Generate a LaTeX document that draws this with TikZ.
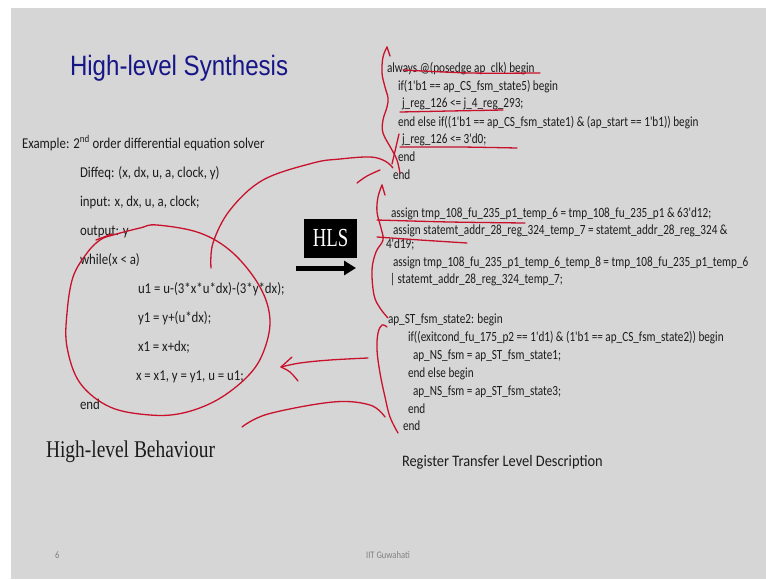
\documentclass[tikz,border=0pt]{standalone}
\usepackage{fontspec}
\setmainfont{Carlito}
\newfontfamily\leftfont{Carlito}[FakeStretch=0.855]
\newfontfamily\codefont{Carlito}[FakeStretch=0.80]
\newfontfamily\rtlfont{Carlito}[FakeStretch=0.90]
\newfontfamily\titlefont{Liberation Sans}[FakeStretch=0.86]
\newfontfamily\behfont{Liberation Serif}[FakeStretch=0.81]
\newfontfamily\hlsfont{Liberation Serif}[FakeStretch=0.72]
\usetikzlibrary{arrows.meta}
\definecolor{slidebg}{RGB}{214,214,214}
\definecolor{ink}{RGB}{28,28,28}
\definecolor{navy}{RGB}{22,22,135}
\definecolor{annred}{RGB}{200,18,44}
\definecolor{foot}{RGB}{128,128,128}
\tikzset{
  txt/.style={anchor=base west, inner sep=0pt, outer sep=0pt, text=ink, font=\leftfont\fontsize{15}{18}\selectfont},
  code/.style={txt, font=\codefont\fontsize{14}{17}\selectfont},
  ann/.style={draw=annred, line width=1.3pt, line cap=round, line join=round},
}
\begin{document}
\begin{tikzpicture}[x=1pt,y=-1pt]
\useasboundingbox (0,0) rectangle (766,579);
\fill[white] (0,0) rectangle (766,579);
\fill[slidebg] (11,8) rectangle (766,579);

% title
\node[txt, text=navy, font=\titlefont\fontsize{28}{30}\selectfont] (title) at (70,75) {High-level Synthesis};

% left column
\node[txt] (ex) at (22,148) {Example: 2\textsuperscript{nd} order differential equation solver};
\node[txt] (diffeq) at (80,177) {Diffeq: (x, dx, u, a, clock, y)};
\node[txt] (inp) at (80,206) {input: x, dx, u, a, clock;};
\node[txt] (outp) at (80,235) {output: y};
\node[txt] (wh) at (80,264) {while(x < a)};
\node[txt] (l1) at (138,293) {u1 = u-(3*x*u*dx)-(3*y*dx);};
\node[txt] (l2) at (138,322) {y1 = y+(u*dx);};
\node[txt] (l3) at (138,351) {x1 = x+dx;};
\node[txt] (l4) at (136,380) {x = x1, y = y1, u = u1;};
\node[txt] (lend) at (80,409) {end};
\node[txt, font=\behfont\fontsize{24}{26}\selectfont] (beh) at (46,457) {High-level Behaviour};

% HLS box and arrow
\node[fill=black, minimum width=53pt, minimum height=39pt, inner sep=0pt, text=white,
      font=\hlsfont\fontsize{26}{28}\selectfont] (hls) at (330.5,238.5) {HLS};
\coordinate (arrS) at (296,268);
\coordinate (arrE) at (356,268);
\draw[line width=5pt, -{Triangle[length=12pt,width=14pt]}] (arrS) -- (arrE);

% right column, block 1
\node[code] (r1) at (387,72) {always @(posedge ap\_clk) begin};
\node[code] (r2) at (398,90) {if(1'b1 == ap\_CS\_fsm\_state5) begin};
\node[code] (r3) at (402,107) {j\_reg\_126 <= j\_4\_reg\_293;};
\node[code] (r4) at (398,126) {end else if((1'b1 == ap\_CS\_fsm\_state1) \& (ap\_start == 1'b1)) begin};
\node[code] (r5) at (402,143) {j\_reg\_126 <= 3'd0;};
\node[code] (r6) at (398,161) {end};
\node[code] (r7) at (393,179) {end};

% block 2
\node[code] (s1) at (391,217) {assign tmp\_108\_fu\_235\_p1\_temp\_6 = tmp\_108\_fu\_235\_p1 \& 63'd12;};
\node[code] (s2) at (393,234) {assign statemt\_addr\_28\_reg\_324\_temp\_7 = statemt\_addr\_28\_reg\_324 \&};
\node[code] (s3) at (386,248) {4'd19;};
\node[code] (s4) at (393,266) {assign tmp\_108\_fu\_235\_p1\_temp\_6\_temp\_8 = tmp\_108\_fu\_235\_p1\_temp\_6};
\node[code] (s5) at (390,283) {| statemt\_addr\_28\_reg\_324\_temp\_7;};

% block 3
\node[code] (t1) at (388,323) {ap\_ST\_fsm\_state2: begin};
\node[code] (t2) at (408,341) {if((exitcond\_fu\_175\_p2 == 1'd1) \& (1'b1 == ap\_CS\_fsm\_state2)) begin};
\node[code] (t3) at (413,359) {ap\_NS\_fsm = ap\_ST\_fsm\_state1;};
\node[code] (t4) at (408,377) {end else begin};
\node[code] (t5) at (413,395) {ap\_NS\_fsm = ap\_ST\_fsm\_state3;};
\node[code] (t6) at (408,413) {end};
\node[code] (t7) at (403,430) {end};
\node[txt, font=\rtlfont\fontsize{16}{19}\selectfont] (rtl) at (402,466) {Register Transfer Level Description};

% footer
\node[txt, text=foot, font=\leftfont\fontsize{10}{12}\selectfont] (pg) at (55,558) {6};
\node[anchor=base, inner sep=0pt, text=foot, font=\leftfont\fontsize{10}{12}\selectfont] (inst) at (388,558) {IIT Guwahati};

% red annotations
\draw[ann] plot[smooth cycle, tension=0.6] coordinates {(113,235) (140,228) (157,225) (200,233) (233,253) (260,287) (270,320) (263,353) (247,377) (217,400) (183,413) (150,415) (110,407) (80,383) (67,347) (67,313) (73,277) (87,253) (100,240)};
\draw[ann] (96,240) -- (112,234);
\draw[ann] plot[smooth, tension=0.6] coordinates {(211,268) (213,243) (230,210) (263,180) (313,163) (340,159) (370,157) (385,161) (393,168)};
\draw[ann] plot[smooth, tension=0.6] coordinates {(357,183) (367,176) (380,170)};
% brace 1
\draw[ann] plot[smooth, tension=0.6] coordinates {(387,47) (383,57) (382,73) (385,87) (388,98) (387,107) (383,120) (383,133) (392,150) (397,160) (400,173)};
\draw[ann] (387,47) -- (390,56);
\draw[ann] (399,134) -- (392,164);
% underlines block 1
\draw[ann] plot[smooth] coordinates {(403,70) (470,73) (540,73)};
\draw[ann] plot[smooth] coordinates {(400,112) (450,111) (503,110)};
\draw[ann] plot[smooth] coordinates {(400,147) (460,147) (517,148)};
% brace 2
\draw[ann] plot[smooth, tension=0.6] coordinates {(382,185) (378,197) (377,212) (381,228) (383,240) (376,252) (372,270) (374,295) (380,308) (388,318)};
\draw[ann] (382,185) -- (385,195);
\draw[ann] plot[smooth] coordinates {(377,220) (450,222) (525,223)};
\draw[ann] plot[smooth] coordinates {(377,237) (420,240) (467,243)};
% brace 3
\draw[ann] plot[smooth, tension=0.6] coordinates {(387,327) (382,325) (378,333) (377,350) (380,373) (385,397) (390,417) (398,433)};
% bottom arc
\draw[ann] plot[smooth, tension=0.6] coordinates {(242,427) (268,414) (333,402) (370,405) (385,417)};
% left-pointing arrow
\draw[ann] plot[smooth, tension=0.6] coordinates {(368,358) (330,360) (300,363) (281,367)};
\draw[ann] (281,367) -- (292,357);
\draw[ann] plot[smooth, tension=0.6] coordinates {(281,367) (290,372) (298,381)};
\end{tikzpicture}
\end{document}
